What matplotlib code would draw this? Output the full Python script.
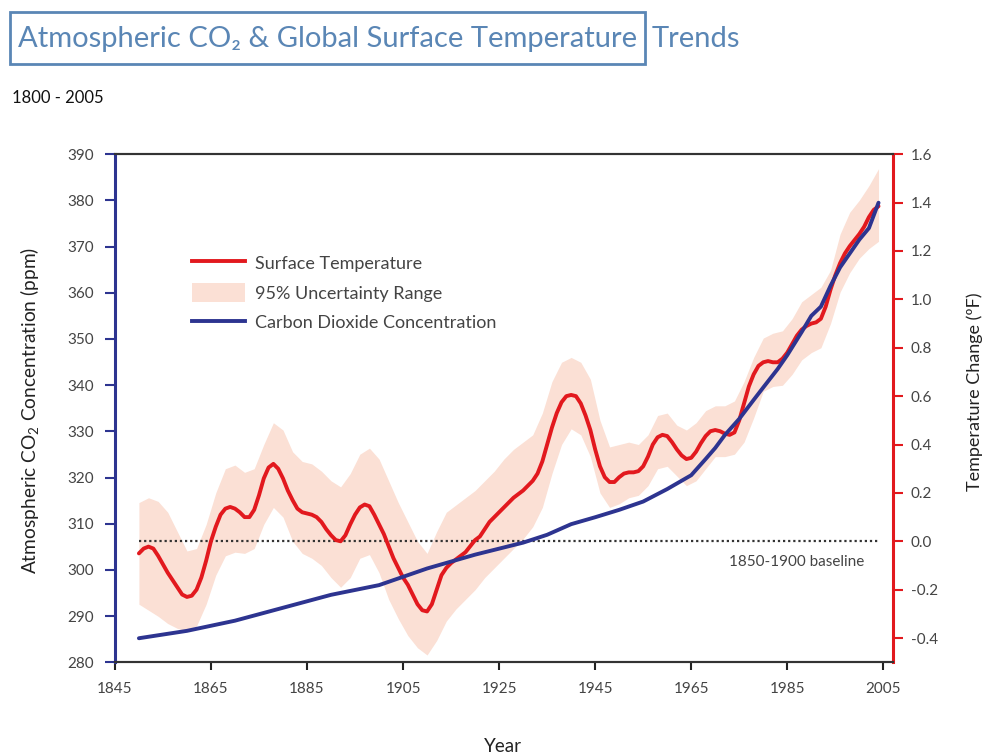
import matplotlib
matplotlib.use("Agg")
import matplotlib.pyplot as plt
from matplotlib.lines import Line2D
from matplotlib.patches import Patch, Rectangle

plt.rcParams['font.family'] = ['Lato', 'DejaVu Sans']
plt.rcParams['mathtext.default'] = 'regular'

# surface temperature change (deg F), one value per year 1850-2004
temp_years = list(range(1850, 2005))
temp = [-0.05, -0.03, -0.022, -0.03, -0.06, -0.095, -0.13, -0.16, -0.19, -0.22,
        -0.23, -0.225, -0.20, -0.15, -0.08, 0.00, 0.06, 0.11, 0.135, 0.142,
        0.135, 0.12, 0.10, 0.10, 0.13, 0.19, 0.26, 0.305, 0.32, 0.30,
        0.26, 0.21, 0.17, 0.135, 0.12, 0.115, 0.11, 0.10, 0.08, 0.05,
        0.025, 0.005, 0.00, 0.025, 0.07, 0.11, 0.14, 0.152, 0.145, 0.11,
        0.07, 0.03, -0.02, -0.07, -0.11, -0.15, -0.18, -0.22, -0.26, -0.285,
        -0.29, -0.26, -0.20, -0.14, -0.11, -0.09, -0.075, -0.06, -0.045, -0.02,
        0.005, 0.02, 0.05, 0.08, 0.10, 0.12, 0.14, 0.16, 0.18, 0.195,
        0.21, 0.23, 0.25, 0.28, 0.33, 0.40, 0.47, 0.53, 0.575, 0.60,
        0.605, 0.60, 0.57, 0.52, 0.46, 0.38, 0.31, 0.265, 0.245, 0.245,
        0.265, 0.28, 0.285, 0.285, 0.29, 0.31, 0.35, 0.40, 0.43, 0.44,
        0.435, 0.41, 0.38, 0.355, 0.34, 0.345, 0.37, 0.405, 0.435, 0.455,
        0.46, 0.455, 0.445, 0.44, 0.45, 0.50, 0.57, 0.64, 0.69, 0.725,
        0.74, 0.745, 0.74, 0.74, 0.755, 0.78, 0.815, 0.85, 0.875, 0.89,
        0.90, 0.905, 0.92, 0.97, 1.04, 1.10, 1.15, 1.19, 1.22, 1.245,
        1.27, 1.30, 1.34, 1.37, 1.385]

# 95% uncertainty range, every second year 1850-2004
band_years = list(range(1850, 2005, 2))
temp_hi = [0.16, 0.18, 0.165, 0.12, 0.04, -0.04, -0.03, 0.07, 0.20, 0.30,
           0.315, 0.285, 0.30, 0.40, 0.49, 0.46, 0.37, 0.33, 0.32, 0.29,
           0.25, 0.225, 0.28, 0.36, 0.385, 0.34, 0.25, 0.16, 0.08, 0.00,
           -0.05, 0.04, 0.12, 0.15, 0.18, 0.21, 0.25, 0.29, 0.34, 0.38,
           0.41, 0.44, 0.53, 0.66, 0.74, 0.76, 0.74, 0.67, 0.50, 0.39,
           0.40, 0.41, 0.40, 0.44, 0.52, 0.53, 0.48, 0.46, 0.49, 0.54,
           0.56, 0.56, 0.58, 0.66, 0.76, 0.84, 0.86, 0.87, 0.92, 0.99,
           1.02, 1.05, 1.12, 1.27, 1.36, 1.41, 1.47, 1.54]
temp_lo = [-0.26, -0.285, -0.31, -0.34, -0.36, -0.37, -0.35, -0.26, -0.14, -0.06,
           -0.045, -0.05, -0.03, 0.07, 0.14, 0.10, 0.00, -0.05, -0.07, -0.10,
           -0.15, -0.19, -0.15, -0.07, -0.055, -0.13, -0.24, -0.32, -0.39, -0.44,
           -0.47, -0.41, -0.33, -0.28, -0.24, -0.20, -0.15, -0.11, -0.07, -0.03,
           0.01, 0.06, 0.14, 0.28, 0.40, 0.465, 0.44, 0.35, 0.20, 0.14,
           0.155, 0.18, 0.19, 0.23, 0.30, 0.31, 0.27, 0.23, 0.25, 0.30,
           0.35, 0.35, 0.36, 0.41, 0.51, 0.62, 0.64, 0.645, 0.69, 0.75,
           0.78, 0.80, 0.90, 1.03, 1.11, 1.17, 1.21, 1.24]

# atmospheric CO2 (ppm)
co2_years = [1850, 1860, 1870, 1880, 1890, 1900, 1910, 1920, 1930, 1935, 1940, 1945,
             1950, 1955, 1960, 1965, 1968, 1970, 1972, 1975, 1978, 1980, 1983, 1985,
             1988, 1990, 1992, 1994, 1996, 1998, 2000, 2002, 2004]
co2 = [285.2, 286.8, 289.0, 291.8, 294.6, 296.7, 300.3, 303.3, 305.9, 307.6, 309.9, 311.4,
       313.0, 314.8, 317.5, 320.5, 324.0, 326.4, 329.2, 332.7, 336.8, 339.5, 343.5, 346.5,
       351.5, 355.0, 357.0, 361.5, 365.5, 368.5, 371.5, 374.0, 379.5]

baseline_span = [1850, 2004]
x_ticks = [1845, 1865, 1885, 1905, 1925, 1945, 1965, 1985, 2005]
ppm_ticks = list(range(280, 391, 10))
temp_ticks = [-0.4, -0.2, 0.0, 0.2, 0.4, 0.6, 0.8, 1.0, 1.2, 1.4, 1.6]

red = '#e2191e'
navy = '#2d3490'
band = '#fbe0d5'
grey = '#444444'
titleblue = '#5a86b5'

fig = plt.figure(figsize=(9.82, 7.56), dpi=100)
ax = fig.add_axes([0.117, 0.124, 0.7923, 0.672])   # temperature, right axis
ax2 = ax.twinx()                                    # co2, left axis

ax.fill_between(band_years, temp_lo, temp_hi, color=band, lw=0, zorder=1)
ax.plot(baseline_span, [0, 0], color='#333333', lw=1.6, ls=(0, (1, 1.3)), zorder=2)
ax.plot(temp_years, temp, color=red, lw=2.8, solid_joinstyle='round',
        solid_capstyle='round', zorder=3)
ax2.plot(co2_years, co2, color=navy, lw=2.8, solid_joinstyle='round',
         solid_capstyle='round', zorder=3)

ax.set_xlim(1845, 2007)
ax.set_ylim(-0.50, 1.6)
ax2.set_ylim(280, 390)

ax.yaxis.tick_right()
ax2.yaxis.tick_left()
ax.set_yticks(temp_ticks)
ax.set_yticklabels(['%.1f' % v for v in temp_ticks])
ax2.set_yticks(ppm_ticks)
ax.set_xticks(x_ticks)

ax.tick_params(axis='x', colors='#222222', length=6, width=1.5, labelcolor=grey,
               labelsize=11, pad=8)
ax.tick_params(axis='y', colors=red, length=7, width=1.5, labelcolor=grey,
               labelsize=11, pad=6)
ax2.tick_params(axis='y', colors=navy, length=7, width=1.5, labelcolor=grey,
                labelsize=11, pad=8)

for a in (ax, ax2):
    a.spines['top'].set_color('#333333')
    a.spines['bottom'].set_color('#333333')
    a.spines['top'].set_linewidth(1.5)
    a.spines['bottom'].set_linewidth(1.5)
ax.spines['left'].set_visible(False)
ax2.spines['right'].set_visible(False)
ax2.spines['left'].set_color(navy)
ax2.spines['left'].set_linewidth(2.2)
ax.spines['right'].set_color(red)
ax.spines['right'].set_linewidth(2.2)

ax.text(2001, -0.085, '1850-1900 baseline', ha='right', va='center',
        fontsize=11, color=grey)

handles = [Line2D([], [], color=red, lw=2.8),
           Patch(facecolor=band, edgecolor='none'),
           Line2D([], [], color=navy, lw=2.8)]
labels = ['Surface Temperature', '95% Uncertainty Range', 'Carbon Dioxide Concentration']
ax2.legend(handles, labels, loc='upper left', bbox_to_anchor=(0.088, 0.822),
           frameon=False, fontsize=13, handlelength=2.9, handleheight=1.2,
           handletextpad=0.55, labelspacing=0.62, borderpad=0, labelcolor=grey)

fig.text(30 / 982, 1 - 410 / 756, 'Atmospheric CO$_2$ Concentration (ppm)',
         rotation=90, ha='center', va='center', fontsize=13.8, color='#222222')
fig.text(975 / 982, 1 - 392 / 756, 'Temperature Change (\u00baF)',
         rotation=90, ha='center', va='center', fontsize=13, color='#222222')
fig.text(503 / 982, 1 - 746 / 756, 'Year', ha='center', va='center',
         fontsize=13.5, color='#222222')

# title: boxed part scaled to fill the box
t = fig.text(18 / 982, 1 - 39 / 756, 'Atmospheric CO\u2082 & Global Surface Temperature',
             ha='left', va='center', fontsize=20, color=titleblue)
fig.canvas.draw()
w = t.get_window_extent().width
t.set_fontsize(20 * 619 / w)
fig.patches.append(Rectangle((10 / 982, 1 - 64 / 756), 635 / 982, 52 / 756,
                             transform=fig.transFigure, fill=False,
                             edgecolor=titleblue, lw=2))
fig.text(652 / 982, 1 - 39 / 756, 'Trends', ha='left', va='center',
         fontsize=20 * 619 / w, color=titleblue)
fig.text(12 / 982, 1 - 98 / 756, '1800 - 2005', ha='left', va='center',
         fontsize=12, color='#111111')

fig.savefig('out.png', dpi=100)
